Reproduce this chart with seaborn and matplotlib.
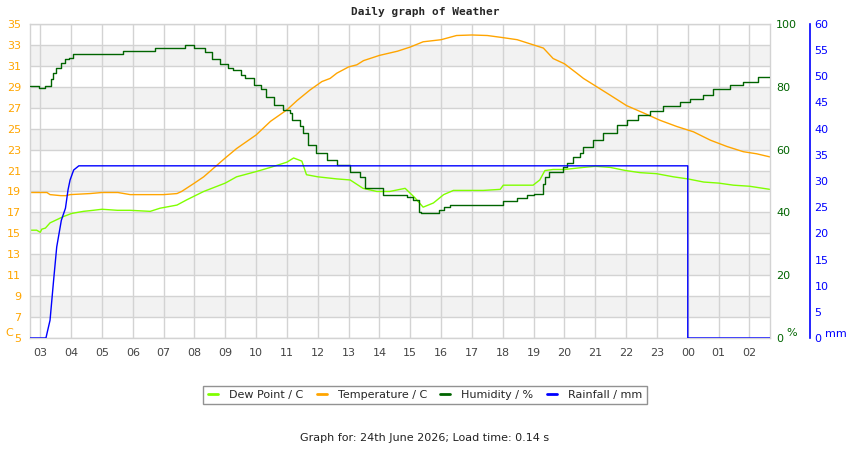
import seaborn as sns
import matplotlib.pyplot as plt
import pandas as pd
from matplotlib.lines import Line2D


# "HH:MM" -> hours on the x axis (times past midnight run on as 24:xx, 25:xx ...)
def hrs(t):
    h, m = t.split(":")
    return int(h) + int(m) / 60


ORANGE = "#ffa500"
LIME = "#80ff00"
DKGREEN = "#006400"
BLUE = "#0000ff"

temp_times = ["02:40", "03:13", "03:19", "03:40", "03:50", "03:58", "04:37", "05:00", "05:31",
              "05:55", "06:34", "07:00", "07:26", "07:35", "08:00", "08:18", "09:00", "09:22",
              "10:00", "10:28", "11:00", "11:20", "11:45", "12:08", "12:24", "12:37", "13:00",
              "13:16", "13:29", "14:00", "14:35", "15:00", "15:25", "16:00", "16:30", "17:00",
              "17:30", "18:00", "18:28", "19:00", "19:19", "19:38", "20:00", "20:24", "20:37",
              "21:03", "21:29", "22:01", "22:34", "23:06", "23:39", "24:11", "24:44", "25:16",
              "25:48", "26:14", "26:40"]
temp_vals = [18.9, 18.9, 18.7, 18.6, 18.6, 18.7, 18.8, 18.9, 18.9,
             18.7, 18.7, 18.7, 18.8, 19.0, 19.8, 20.4, 22.2, 23.1,
             24.4, 25.7, 26.8, 27.7, 28.7, 29.5, 29.8, 30.3, 30.9,
             31.1, 31.5, 32.0, 32.4, 32.8, 33.3, 33.5, 33.9, 33.95,
             33.9, 33.7, 33.5, 33.0, 32.7, 31.7, 31.2, 30.3, 29.8,
             29.0, 28.2, 27.2, 26.5, 25.8, 25.2, 24.7, 23.9, 23.3,
             22.8, 22.6, 22.3]

dew_times = ["02:40", "02:53", "03:00", "03:03", "03:10", "03:19", "03:32", "03:45", "04:01",
             "04:24", "04:43", "05:00", "05:30", "05:55", "06:34", "06:53", "07:26", "07:45",
             "08:18", "09:00", "09:22", "10:00", "10:28", "11:00", "11:13", "11:29", "11:38",
             "12:00", "12:37", "13:03", "13:28", "13:55", "14:20", "14:50", "15:09", "15:25",
             "15:45", "16:05", "16:24", "17:22", "17:55", "18:01", "18:59", "19:12", "19:22",
             "19:38", "20:00", "20:37", "21:00", "21:29", "21:59", "22:27", "22:59", "23:32",
             "24:00", "24:31", "25:00", "25:29", "26:00", "26:40"]
dew_vals = [15.3, 15.3, 15.1, 15.4, 15.5, 16.0, 16.3, 16.6, 16.9,
            17.1, 17.2, 17.3, 17.2, 17.2, 17.1, 17.4, 17.7, 18.2,
            19.0, 19.8, 20.4, 20.9, 21.3, 21.8, 22.2, 21.9, 20.6,
            20.4, 20.2, 20.1, 19.3, 19.0, 19.0, 19.3, 18.4, 17.5,
            17.9, 18.7, 19.1, 19.1, 19.2, 19.6, 19.6, 20.1, 21.0,
            21.1, 21.1, 21.3, 21.4, 21.3, 21.0, 20.8, 20.7, 20.4,
            20.2, 19.9, 19.8, 19.6, 19.5, 19.2]

hum_times = ["02:40", "02:58", "03:10", "03:20", "03:24", "03:31", "03:40", "03:48", "03:55",
             "04:04", "05:40", "06:44", "07:42", "08:00", "08:20", "08:35", "08:50", "09:05",
             "09:15", "09:30", "09:38", "09:55", "10:10", "10:20", "10:35", "10:52", "11:05",
             "11:10", "11:25", "11:32", "11:41", "11:57", "12:17", "12:37", "13:03", "13:22",
             "13:32", "14:07", "14:53", "15:05", "15:16", "15:20", "15:55", "16:05", "16:18",
             "18:00", "18:27", "18:47", "19:00", "19:18", "19:22", "19:29", "19:58", "20:05",
             "20:17", "20:30", "20:37", "20:56", "21:15", "21:42", "22:01", "22:24", "22:47",
             "23:12", "23:45", "24:05", "24:30", "24:50", "25:22", "25:48", "26:17", "26:40"]
hum_vals = [80.3, 79.5, 80.3, 82.5, 84.4, 86.0, 87.5, 88.8, 89.2,
            90.3, 91.4, 92.3, 93.3, 92.3, 91.0, 89.0, 87.3, 86.0,
            85.4, 83.8, 82.8, 80.6, 79.3, 76.8, 74.2, 72.6, 71.6,
            69.4, 67.5, 65.3, 61.5, 58.8, 56.7, 55.1, 53.0, 51.4,
            47.8, 45.5, 45.0, 44.0, 40.2, 39.8, 40.8, 41.8, 42.4,
            43.6, 44.5, 45.5, 45.9, 49.0, 51.4, 53.0, 54.6, 55.6,
            57.7, 59.0, 60.9, 63.0, 65.3, 67.8, 69.4, 71.0, 72.3,
            73.9, 75.3, 76.1, 77.4, 79.2, 80.6, 81.6, 83.2, 83.2]

rain_times = ["02:40", "03:11", "03:19", "03:26", "03:32", "03:41", "03:49", "03:54", "03:58",
              "04:05", "04:15", "24:00", "24:00", "26:40"]
rain_vals = [0, 0, 3.4, 11.1, 17.4, 22.5, 24.8, 28.3, 30.2,
             32.1, 32.9, 32.9, 0, 0]

hour_ticks = list(range(3, 27))
hour_labels = [f"{h % 24:02d}" for h in hour_ticks]

dew_df = pd.DataFrame({"t": [hrs(t) for t in dew_times], "v": dew_vals})
temp_df = pd.DataFrame({"t": [hrs(t) for t in temp_times], "v": temp_vals})
hum_df = pd.DataFrame({"t": [hrs(t) for t in hum_times], "v": hum_vals})
rain_df = pd.DataFrame({"t": [hrs(t) for t in rain_times], "v": rain_vals})

sns.set_theme(style="white")
plt.rcParams['font.family'] = ['DejaVu Sans']
plt.rcParams['font.size'] = 8

fig, ax = plt.subplots(figsize=(8.5, 4.5), dpi=100)
fig.subplots_adjust(left=30/850, right=770/850, top=1-24/450, bottom=1-338/450)

# alternating grey bands
for lo in range(7, 35, 4):
    ax.axhspan(lo, lo + 2, color="#f2f2f2", lw=0, zorder=0)

sns.lineplot(data=dew_df, x="t", y="v", ax=ax, color=LIME, lw=1.0,
             estimator=None, sort=False, legend=False)
sns.lineplot(data=temp_df, x="t", y="v", ax=ax, color=ORANGE, lw=1.0,
             estimator=None, sort=False, legend=False)

xmin, xmax = hrs("02:40"), hrs("26:40")
ax.set_xlim(xmin, xmax)
ax.set_ylim(5, 35)
ax.set_yticks(range(5, 36, 2))
ax.set_xticks(hour_ticks)
ax.set_xticklabels(hour_labels)
ax.grid(True, color="#d3d3d3", lw=1)
ax.set_axisbelow(True)
ax.set_xlabel("")
ax.set_ylabel("")
ax.tick_params(axis="y", colors=ORANGE, labelsize=8, length=0, pad=6.5)
ax.tick_params(axis="x", colors="#444444", labelsize=8, length=0, pad=7)
for s in ax.spines.values():
    s.set_color("#d3d3d3")
    s.set_linewidth(1)

# humidity axis
ax_h = ax.twinx()
sns.lineplot(data=hum_df, x="t", y="v", ax=ax_h, color=DKGREEN, lw=1.0,
             estimator=None, sort=False, legend=False, drawstyle="steps-post")
ax_h.set_ylim(0, 100)
ax_h.set_yticks(range(0, 101, 20))
ax_h.set_xlim(xmin, xmax)
ax_h.set_ylabel("")
ax_h.grid(False)
ax_h.tick_params(axis="y", colors=DKGREEN, labelsize=8, length=0, pad=4.5)
for s in ax_h.spines.values():
    s.set_visible(False)

# rainfall axis, spine 40 px right of the plot
ax_r = ax.twinx()
sns.lineplot(data=rain_df, x="t", y="v", ax=ax_r, color=BLUE, lw=1.0,
             estimator=None, sort=False, legend=False)
ax_r.set_ylim(0, 60)
ax_r.set_yticks(range(0, 61, 5))
ax_r.set_xlim(xmin, xmax)
ax_r.set_ylabel("")
ax_r.grid(False)
for s in ax_r.spines.values():
    s.set_visible(False)
ax_r.spines["right"].set_visible(True)
ax_r.spines["right"].set_position(("outward", 29))
ax_r.spines["right"].set_color(BLUE)
ax_r.spines["right"].set_linewidth(1.2)
ax_r.tick_params(axis="y", colors=BLUE, labelsize=8, length=0, pad=3)

# unit labels
fig.text(5/850, 1-333/450, "C", color=ORANGE, fontsize=8, va="center")
fig.text(786/850, 1-333/450, "%", color=DKGREEN, fontsize=8, va="center")
fig.text(825/850, 1-334/450, "mm", color=BLUE, fontsize=8, va="center")

fig.text(0.5, 1-12/450, "Daily graph of Weather", ha="center", va="center",
         fontsize=8, fontweight="bold", family="DejaVu Sans Mono")

handles = [Line2D([], [], color=LIME, lw=2), Line2D([], [], color=ORANGE, lw=2),
           Line2D([], [], color=DKGREEN, lw=2), Line2D([], [], color=BLUE, lw=2)]
labels = ["Dew Point / C", "Temperature / C", "Humidity / %", "Rainfall / mm"]
leg = fig.legend(handles, labels, loc="center", bbox_to_anchor=(425/850, 1-395/450),
                 ncol=4, fontsize=8, handlelength=0.9, handletextpad=1.0,
                 columnspacing=1.2, frameon=True, fancybox=False, borderpad=0.4)
leg.get_frame().set_edgecolor("#777777")
leg.get_frame().set_linewidth(1)

fig.text(0.5, 1-438/450, "Graph for: 24th June 2026; Load time: 0.14 s",
         ha="center", va="center", fontsize=8, color="#222222")

plt.savefig("out.png", dpi=100)
plt.close()
